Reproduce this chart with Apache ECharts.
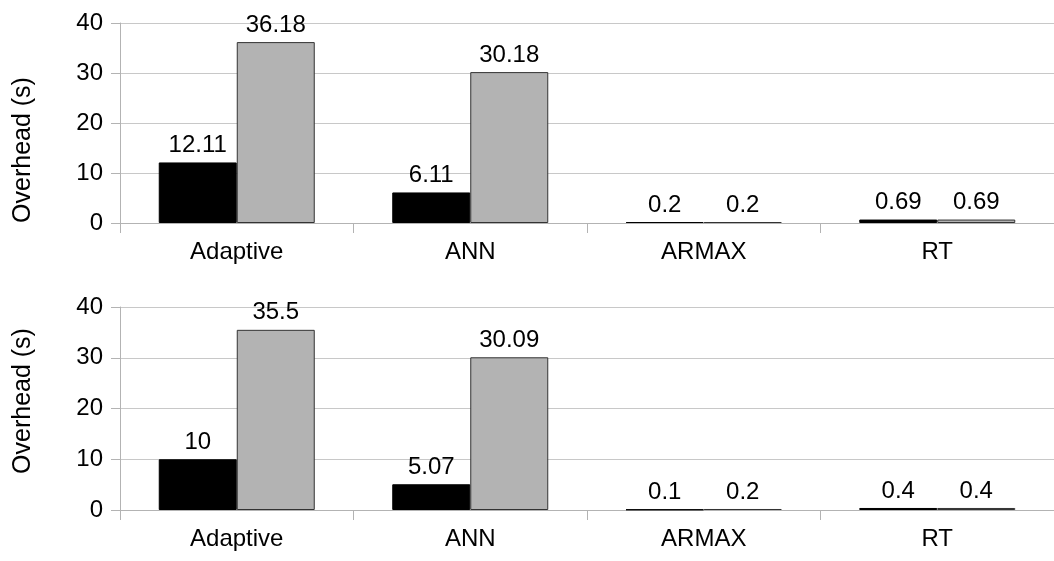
<!DOCTYPE html>
<html>
<head>
<meta charset="utf-8">
<script src="https://cdn.jsdelivr.net/npm/echarts@6/dist/echarts.min.js"></script>
<style>html,body{margin:0;padding:0;background:#fff}#c{width:1054px;height:561px}</style>
</head>
<body>
<div id="c"></div>
<script>
const categories = ['Adaptive', 'ANN', 'ARMAX', 'RT'];
const topBlack = [12.11, 6.11, 0.2, 0.69];
const topGray = [36.18, 30.18, 0.2, 0.69];
const bottomBlack = [10, 5.07, 0.1, 0.4];
const bottomGray = [35.5, 30.09, 0.2, 0.4];
const yTitle = 'Overhead (s)';

const FONT = 'Liberation Sans, Arial, sans-serif';
const FS = 24;
const chart = echarts.init(document.getElementById('c'), null, {renderer: 'canvas'});

function xAx(gi) {
  return {
    type: 'category', gridIndex: gi, data: categories,
    axisLine: {lineStyle: {color: '#b3b3b3', width: 1}},
    axisTick: {show: true, length: 10, lineStyle: {color: '#b3b3b3'}},
    axisLabel: {color: '#000', fontSize: FS, fontFamily: FONT, margin: 17}
  };
}
function yAx(gi) {
  return {
    type: 'value', gridIndex: gi, min: 0, max: 40, interval: 10,
    axisLine: {show: true, lineStyle: {color: '#b3b3b3', width: 1}},
    axisTick: {show: true, length: 9, lineStyle: {color: '#b3b3b3'}},
    splitLine: {show: true, lineStyle: {color: '#c8c8c8', width: 1}},
    axisLabel: {color: '#000', fontSize: FS, fontFamily: FONT, margin: 17}
  };
}
function bar(gi, data, color, border) {
  return {
    type: 'bar', xAxisIndex: gi, yAxisIndex: gi, data: data,
    barWidth: 78, barGap: '0%',
    itemStyle: {color: color, borderColor: border, borderWidth: 1},
    label: {show: true, position: 'top', distance: 5, color: '#000', fontSize: FS, fontFamily: FONT},
    animation: false
  };
}

chart.setOption({
  animation: false,
  backgroundColor: '#fff',
  grid: [
    {left: 120, width: 940, top: 23, height: 200},
    {left: 120, width: 940, top: 307, height: 203}
  ],
  xAxis: [xAx(0), xAx(1)],
  yAxis: [yAx(0), yAx(1)],
  series: [
    bar(0, topBlack, '#000000', '#000000'),
    bar(0, topGray, '#b3b3b3', '#333333'),
    bar(1, bottomBlack, '#000000', '#000000'),
    bar(1, bottomGray, '#b3b3b3', '#333333')
  ],
  graphic: [
    {type: 'text', x: 23, y: 150, rotation: Math.PI / 2,
     style: {text: yTitle, fontSize: 25, fontFamily: FONT, fill: '#000', align: 'center', verticalAlign: 'middle'}},
    {type: 'text', x: 23, y: 401, rotation: Math.PI / 2,
     style: {text: yTitle, fontSize: 25, fontFamily: FONT, fill: '#000', align: 'center', verticalAlign: 'middle'}}
  ]
});
</script>
</body>
</html>
